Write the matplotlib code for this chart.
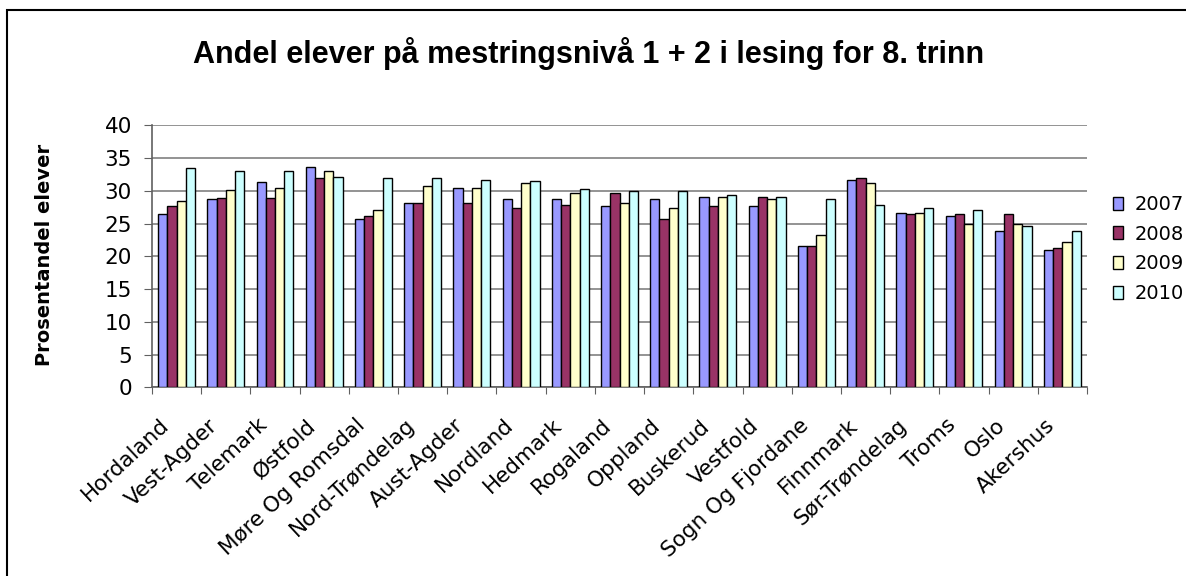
import matplotlib
matplotlib.use("Agg")
import matplotlib.pyplot as plt
import matplotlib.transforms as mtransforms
import numpy as np
from matplotlib.patches import Rectangle

plt.rcParams['font.family'] = ['DejaVu Sans']

# Data
regions = ["Hordaland", "Vest-Agder", "Telemark", "Østfold", "Møre Og Romsdal",
           "Nord-Trøndelag", "Aust-Agder", "Nordland", "Hedmark", "Rogaland",
           "Oppland", "Buskerud", "Vestfold", "Sogn Og Fjordane", "Finnmark",
           "Sør-Trøndelag", "Troms", "Oslo", "Akershus"]
years = ["2007", "2008", "2009", "2010"]
v2007 = [26.4, 28.7, 31.4, 33.7, 25.7, 28.1, 30.5, 28.7, 28.7, 27.7,
         28.7, 29.1, 27.7, 21.5, 31.7, 26.6, 26.2, 23.8, 20.9]
v2008 = [27.7, 28.9, 28.9, 31.9, 26.1, 28.1, 28.2, 27.3, 27.9, 29.6,
         25.7, 27.7, 29.1, 21.5, 31.9, 26.4, 26.4, 26.4, 21.3]
v2009 = [28.5, 30.1, 30.5, 33.0, 27.1, 30.7, 30.5, 31.2, 29.6, 28.2,
         27.3, 29.1, 28.7, 23.2, 31.2, 26.6, 25.0, 25.0, 22.2]
v2010 = [33.5, 33.0, 33.0, 32.1, 31.9, 31.9, 31.7, 31.5, 30.3, 30.0,
         30.0, 29.3, 29.1, 28.7, 27.9, 27.3, 27.1, 24.7, 23.8]
series = [v2007, v2008, v2009, v2010]
colors = ["#9999FF", "#993366", "#FFFFCC", "#CCFFFF"]

fig = plt.figure(figsize=(11.86, 5.76), dpi=100)
ax = fig.add_axes([152/1186, 1-387.3/576, (1087-152)/1186, (387.3-125.3)/576])

x = np.arange(len(regions))
w = 0.1875
for i, (vals, col, yr) in enumerate(zip(series, colors, years)):
    ax.bar(x + (i - 1.5)*w, vals, width=w, color=col, edgecolor="black",
           linewidth=1.0, label=yr, zorder=3)

ax.set_xlim(-0.5, len(regions) - 0.5)
ax.set_ylim(0, 40)
ax.set_yticks(range(0, 41, 5))
ax.yaxis.grid(True, color="#808080", linewidth=1.2, zorder=0)
ax.set_axisbelow(True)
for s in ["top", "right"]:
    ax.spines[s].set_visible(False)
for s in ["left", "bottom"]:
    ax.spines[s].set_color("#606060")
    ax.spines[s].set_linewidth(1.2)

# ticks between the category groups; category names placed under each group
ax.set_xticks(np.arange(-0.5, len(regions), 1.0))
ax.set_xticklabels([])
ax.tick_params(axis="x", which="major", length=5, color="#606060", direction="out")
ax.tick_params(axis="y", length=6, color="#606060", labelsize=15.5, pad=8.5)

offset = mtransforms.ScaledTranslation(-11/100, -35/100, fig.dpi_scale_trans)
trans = ax.get_xaxis_transform() + offset
for xi, name in zip(x, regions):
    ax.text(xi, 0, name, transform=trans, rotation=43, ha="right", va="center",
            rotation_mode="anchor", fontsize=15.5, clip_on=False)

fig.text(589/1186, 1-63/576, "Andel elever på mestringsnivå 1 + 2 i lesing for 8. trinn",
         ha="center", va="baseline", fontsize=22, fontweight="bold",
         family="Liberation Sans")
fig.text(45/1186, 1-255/576, "Prosentandel elever", rotation=90,
         ha="center", va="center", fontsize=14, fontweight="bold")

leg = fig.legend(loc="upper left", bbox_to_anchor=(1113/1186, 1-195/576),
                 frameon=False, fontsize=14, handlelength=0.5, handleheight=0.65,
                 handletextpad=0.6, labelspacing=0.55, borderpad=0,
                 borderaxespad=0)

fig.patches.append(Rectangle((7/1186, -0.1), 1.2, 1-10/576+0.1, transform=fig.transFigure,
                             fill=False, edgecolor="black", linewidth=1.5))

fig.savefig("out.png", dpi=100)
